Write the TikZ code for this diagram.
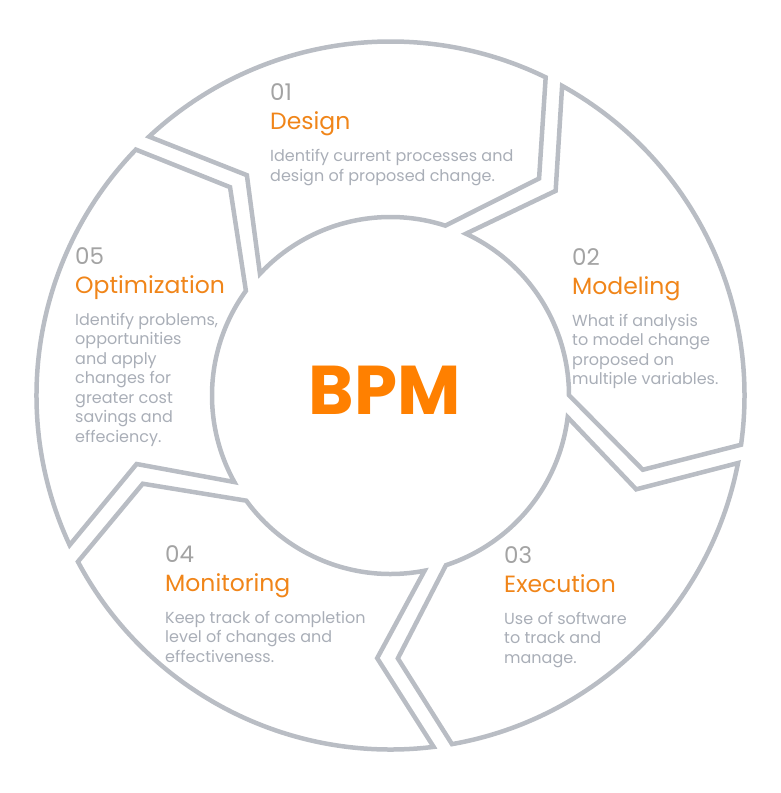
\documentclass[tikz,border=0pt]{standalone}
\usepackage{fontspec}
\setmainfont{Poppins}
\usepackage{tikz}
\usetikzlibrary{positioning}
\definecolor{ringgray}{HTML}{B9BDC4}
\definecolor{numgray}{HTML}{A3A3A3}
\definecolor{titleorange}{HTML}{F08519}
\definecolor{bpmorange}{HTML}{FF8000}
\definecolor{textgray}{HTML}{A9AEB7}
\begin{document}
\begin{tikzpicture}[x=1pt, y=1pt,
  segment/.style={draw=ringgray, line width=4.5pt},
  stepnum/.style={anchor=base west, inner sep=0pt, text=numgray, font=\fontsize{23}{23}\selectfont},
  steptitle/.style={anchor=base west, inner sep=0pt, text=titleorange, font=\fontsize{23.5}{23.5}\selectfont},
  stepdesc/.style={anchor=base west, inner sep=0pt, align=left, text=textgray, font=\fontsize{16}{19.5}\selectfont}]
  \useasboundingbox (-390.5,-397.5) rectangle (389.5,395.5);
  \foreach \k in {0,...,4}
    \draw[segment, rotate=-72*\k] (133:354) arc[start angle=133, end angle=64, radius=354]
      -- (55.6:263) -- (72.1:178.5) arc[start angle=72.1, end angle=137, radius=178.5]
      -- (123.1:263) -- cycle;
  \node[font=\bfseries\fontsize{69}{69}\selectfont, text=bpmorange] (bpm) at (-6,5.5) {BPM};
  % design
  \node[stepnum] (num1) at (-120.5,294.5) {01};
  \node[steptitle, below=29pt of num1.base west, anchor=base west] (title1) {Design};
  \node[stepdesc, below=51.5pt of title1.base west, anchor=base west] (desc1) {Identify current processes and\\design of proposed change.};
  % modeling
  \node[stepnum] (num2) at (181.5,130.5) {02};
  \node[steptitle, below=29pt of num2.base west, anchor=base west] (title2) {Modeling};
  \node[stepdesc, below=90.5pt of title2.base west, anchor=base west] (desc2) {What if analysis\\to model change\\proposed on\\multiple variables.};
  % execution
  \node[stepnum] (num3) at (113.5,-167.5) {03};
  \node[steptitle, below=29pt of num3.base west, anchor=base west] (title3) {Execution};
  \node[stepdesc, below=71pt of title3.base west, anchor=base west] (desc3) {Use of software\\to track and\\manage.};
  % monitoring
  \node[stepnum] (num4) at (-225.5,-166.5) {04};
  \node[steptitle, below=29pt of num4.base west, anchor=base west] (title4) {Monitoring};
  \node[stepdesc, below=71pt of title4.base west, anchor=base west] (desc4) {Keep track of completion\\level of changes and\\effectiveness.};
  % optimization
  \node[stepnum] (num5) at (-315.5,131.5) {05};
  \node[steptitle, below=29pt of num5.base west, anchor=base west] (title5) {Optimization};
  \node[stepdesc, below=149pt of title5.base west, anchor=base west] (desc5) {Identify problems,\\opportunities\\and apply\\changes for\\greater cost\\savings and\\effeciency.};
\end{tikzpicture}
\end{document}
